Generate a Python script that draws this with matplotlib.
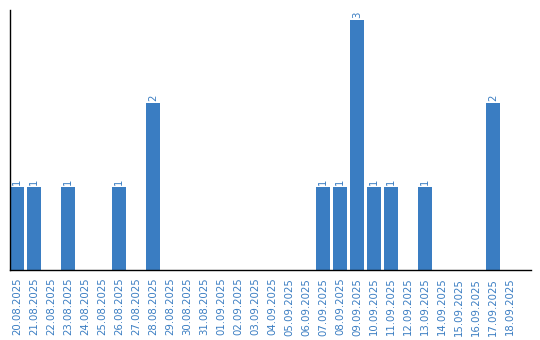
import matplotlib
matplotlib.use("Agg")
import matplotlib.pyplot as plt

dates = ["20.08.2025", "21.08.2025", "22.08.2025", "23.08.2025", "24.08.2025",
         "25.08.2025", "26.08.2025", "27.08.2025", "28.08.2025", "29.08.2025",
         "30.08.2025", "31.08.2025", "01.09.2025", "02.09.2025", "03.09.2025",
         "04.09.2025", "05.09.2025", "06.09.2025", "07.09.2025", "08.09.2025",
         "09.09.2025", "10.09.2025", "11.09.2025", "12.09.2025", "13.09.2025",
         "14.09.2025", "15.09.2025", "16.09.2025", "17.09.2025", "18.09.2025"]
counts = [1, 1, 0, 1, 0, 0, 1, 0, 2, 0,
          0, 0, 0, 0, 0, 0, 0, 0, 1, 1,
          3, 1, 1, 0, 1, 0, 0, 0, 2, 0]

blue = "#3a7dc2"

fig = plt.figure(figsize=(5.4, 3.4), dpi=100)
ax = fig.add_axes([10 / 540, 70 / 340, 521 / 540, 260 / 340])

x = list(range(len(dates)))
ax.bar(x, counts, width=14 / 17, color=blue, align="center")

# value labels above the bars
for xi, c in zip(x, counts):
    if c > 0:
        ax.annotate(str(c), (xi, c), xytext=(0, 1.5), textcoords="offset points",
                    rotation=90, ha="center", va="bottom", color=blue, fontsize=7.3)

ax.set_xlim(-0.41, 30.24)
ax.set_ylim(0, 3.12)
ax.set_xticks(x)
ax.set_xticklabels(dates, rotation=90, color=blue, fontsize=7.3)
ax.tick_params(axis="x", length=0, pad=5.5)
ax.set_yticks([])
for s in ["top", "right"]:
    ax.spines[s].set_visible(False)
ax.spines["left"].set_linewidth(1)
ax.spines["bottom"].set_linewidth(1)

fig.savefig("out.png", dpi=100)
